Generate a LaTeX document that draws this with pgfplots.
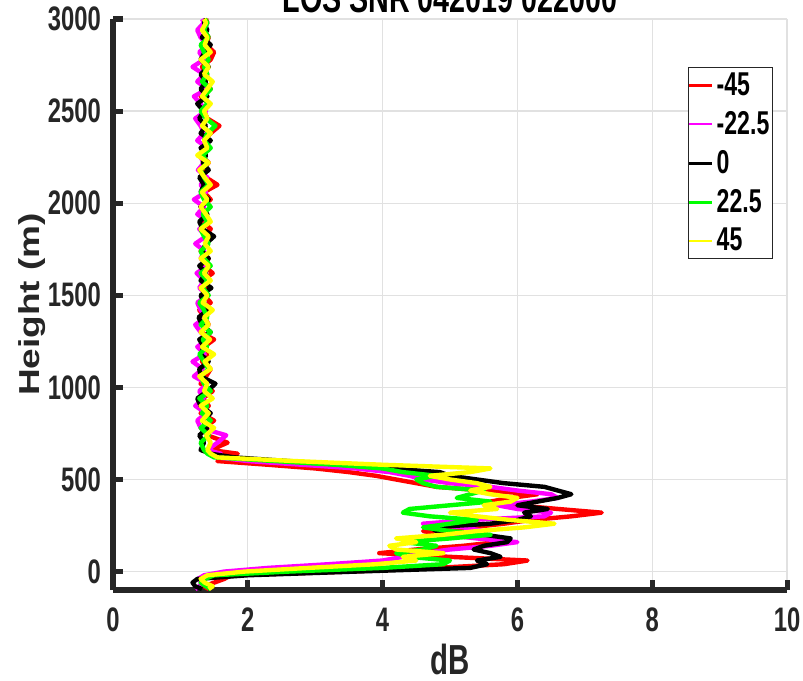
\documentclass[border=0pt]{standalone}
\usepackage{fontspec}
\setmainfont{Liberation Sans}[FakeStretch=0.7]
\newfontfamily\plainfont{Liberation Sans}
\usepackage{graphicx}
\usepackage{pgfplots}
\usepackage{pgfplotstable}
\pgfplotsset{compat=1.18}

\definecolor{axgray}{RGB}{38,38,38}
\definecolor{gridgray}{RGB}{225,225,225}
\definecolor{cRed}{RGB}{255,0,0}
\definecolor{cMag}{RGB}{255,0,255}
\definecolor{cGrn}{RGB}{0,255,0}
\definecolor{cYel}{RGB}{255,255,0}

% SNR profiles, one column per azimuth angle
\pgfplotstableread{
h    r    m    k    g    y
-95  1.42 1.22 1.32 1.45 1.42
-80  1.35 1.28 1.22 1.38 1.48
-60  1.50 1.32 1.18 1.30 1.36
-40  1.65 1.26 1.25 1.36 1.30
-20  1.75 1.35 2.00 1.50 1.40
0    3.50 1.65 3.60 2.60 1.95
20   4.80 2.30 5.30 4.00 2.90
40   5.80 3.20 5.55 4.90 3.90
60   6.15 4.00 5.40 5.00 4.50
80   5.00 4.30 5.75 4.40 4.30
100  3.95 4.60 5.60 4.20 4.90
120  4.50 5.00 5.35 4.60 4.20
140  5.20 5.60 5.50 4.80 4.10
160  5.70 6.00 5.85 4.30 4.50
180  5.50 5.40 5.90 5.00 4.20
200  4.90 4.90 5.50 5.60 4.90
220  4.60 5.50 4.80 5.00 5.40
240  5.30 5.20 4.70 4.60 6.10
260  5.80 4.60 5.60 5.00 6.55
280  6.20 5.30 6.00 5.40 5.90
300  6.80 6.40 6.20 4.70 5.40
320  7.25 6.50 6.10 4.30 5.00
340  6.60 6.00 6.45 4.40 5.70
360  6.00 5.70 6.00 5.00 5.50
380  5.60 6.20 6.30 5.60 5.90
400  5.90 6.60 6.60 5.10 6.00
420  6.30 6.50 6.80 5.30 5.60
440  5.50 6.00 6.60 5.50 5.30
460  4.80 5.60 6.40 4.80 5.60
480  4.50 5.00 5.80 4.60 5.40
500  4.20 4.60 5.40 4.50 5.00
520  3.90 4.40 5.00 4.80 4.70
540  3.50 4.10 4.85 4.30 5.30
560  3.00 3.60 4.10 4.00 5.60
580  2.30 2.80 3.40 3.30 4.00
600  1.55 2.00 2.60 2.40 2.70
620  1.60 1.55 1.80 1.50 1.55
640  1.85 1.60 1.45 1.40 1.45
660  1.45 1.40 1.30 1.35 1.40
700  1.70 1.55 1.35 1.30 1.45
740  1.40 1.68 1.28 1.42 1.38
780  1.35 1.30 1.40 1.30 1.50
820  1.50 1.25 1.33 1.45 1.32
860  1.30 1.38 1.45 1.32 1.42
900  1.42 1.22 1.30 1.40 1.30
940  1.33 1.35 1.25 1.28 1.48
980  1.48 1.28 1.40 1.45 1.35
1020 1.30 1.40 1.52 1.35 1.40
1060 1.38 1.20 1.30 1.30 1.28
1100 1.45 1.33 1.28 1.42 1.45
1140 1.32 1.18 1.42 1.35 1.36
1180 1.40 1.36 1.30 1.28 1.50
1220 1.35 1.25 1.35 1.40 1.32
1260 1.50 1.40 1.28 1.33 1.44
1300 1.30 1.30 1.45 1.45 1.30
1340 1.42 1.22 1.32 1.30 1.42
1380 1.36 1.38 1.27 1.40 1.35
1420 1.28 1.30 1.40 1.35 1.48
1460 1.45 1.25 1.35 1.28 1.33
1500 1.35 1.40 1.30 1.42 1.40
1540 1.40 1.28 1.46 1.33 1.30
1580 1.32 1.35 1.30 1.40 1.45
1620 1.48 1.24 1.38 1.30 1.35
1660 1.35 1.40 1.28 1.45 1.42
1700 1.42 1.30 1.42 1.35 1.30
1740 1.30 1.36 1.32 1.30 1.45
1780 1.40 1.22 1.38 1.42 1.36
1820 1.36 1.38 1.50 1.35 1.42
1860 1.45 1.28 1.33 1.30 1.30
1900 1.33 1.42 1.28 1.40 1.45
1940 1.38 1.25 1.40 1.33 1.38
1980 1.30 1.35 1.30 1.45 1.30
2020 1.45 1.20 1.42 1.35 1.40
2060 1.35 1.38 1.30 1.30 1.32
2100 1.55 1.30 1.35 1.42 1.45
2140 1.38 1.40 1.28 1.35 1.36
2180 1.32 1.26 1.42 1.30 1.28
2220 1.42 1.35 1.33 1.40 1.42
2260 1.30 1.28 1.38 1.33 1.25
2300 1.40 1.40 1.30 1.45 1.40
2340 1.35 1.25 1.45 1.35 1.35
2380 1.45 1.35 1.30 1.40 1.45
2420 1.58 1.30 1.38 1.52 1.32
2460 1.40 1.22 1.28 1.38 1.40
2500 1.35 1.38 1.35 1.30 1.35
2540 1.42 1.30 1.25 1.40 1.45
2580 1.30 1.20 1.40 1.35 1.32
2620 1.45 1.40 1.30 1.45 1.40
2660 1.35 1.25 1.38 1.32 1.48
2700 1.40 1.35 1.30 1.40 1.35
2740 1.32 1.18 1.42 1.35 1.42
2780 1.45 1.35 1.30 1.42 1.30
2820 1.50 1.28 1.36 1.35 1.45
2860 1.38 1.40 1.45 1.30 1.36
2900 1.42 1.30 1.32 1.42 1.40
2940 1.35 1.25 1.40 1.35 1.32
2980 1.40 1.35 1.35 1.40 1.38
3000 1.38 1.32 1.38 1.36 1.35
}\snr

\begin{document}
\begin{tikzpicture}
\begin{axis}[
    name=ax,
    scale only axis,
    width=337pt, height=285.5pt,
    xmin=0, xmax=10, ymin=-100, ymax=3000,
    xtick={0,2,...,10}, ytick={0,500,...,3000},
    axis lines*=left,
    axis line style={axgray, line width=3pt},
    tick style={axgray, line width=2.5pt},
    tick align=inside, major tick length=5pt,
    grid=major,
    major grid style={gridgray, line width=0.6pt},
    clip=false,
    /pgf/number format/assume math mode=true,
    /pgf/number format/1000 sep={},
    ticklabel style={font=\fontsize{17}{19}\selectfont\bfseries, text=axgray},
    xticklabel style={yshift=-5.3pt},
    yticklabel style={xshift=-2.5pt},
    legend style={at={(0.979,0.916)}, anchor=north east,
        draw=axgray, line width=0.5pt, fill=white,
        font=\fontsize{16.5}{18}\selectfont\bfseries,
        inner xsep=0pt, inner ysep=1pt, row sep=3.5pt,
        nodes={inner sep=1.5pt}},
    legend cell align=left,
    legend image code/.code={\draw[#1, line width=1.3pt] (0pt,0pt) -- (11.5pt,0pt);},
    every axis plot/.append style={line width=2.2pt, line join=round},
]
\addplot[cRed] table[x=r, y=h] {\snr};
\addplot[cMag] table[x=m, y=h] {\snr};
\addplot[black] table[x=k, y=h] {\snr};
\addplot[cGrn] table[x=g, y=h] {\snr};
\addplot[cYel] table[x=y, y=h] {\snr};
\legend{-45, -22.5, 0, 22.5, 45}
\end{axis}
\node[anchor=base, font=\fontsize{20.5}{22}\selectfont\bfseries, text=black]
    at ([yshift=3pt]ax.north) {LOS SNR 042019 022000};
\node[font=\fontsize{21}{23}\selectfont\bfseries, text=axgray]
    at ([yshift=-34.5pt]ax.south) {dB};
\node[rotate=90, text=axgray]
    at ([xshift=-40.5pt]ax.west) {\scalebox{1}[0.78]{\fontsize{18.5}{20}\selectfont\plainfont\bfseries Height (m)}};
\pgfresetboundingbox
\path ([shift={(-56.5pt,-45pt)}]ax.south west) rectangle ([shift={(8pt,9.5pt)}]ax.north east);
\end{tikzpicture}
\end{document}
